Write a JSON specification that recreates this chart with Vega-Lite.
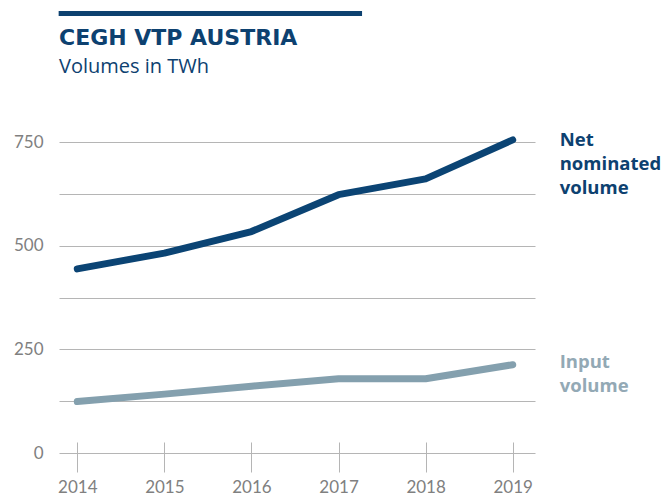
{
  "$schema": "https://vega.github.io/schema/vega-lite/v6.json",
  "width": 476,
  "height": 311,
  "autosize": {"type": "none"},
  "padding": {"left": 59, "top": 142, "right": 132, "bottom": 49},
  "background": "white",
  "title": {
    "text": "CEGH VTP AUSTRIA",
    "subtitle": "Volumes in TWh",
    "anchor": "start",
    "frame": "group",
    "font": "DejaVu Sans",
    "fontSize": 22,
    "fontWeight": "bold",
    "color": "#0d4170",
    "subtitleFont": "Open Sans",
    "subtitleFontSize": 20,
    "subtitleColor": "#0d4170",
    "subtitlePadding": 7,
    "offset": -67.5
  },
  "config": {
    "view": {"stroke": null},
    "axis": {
      "labelFont": "Lato",
      "labelFontSize": 17,
      "labelColor": "#808080",
      "gridColor": "#b5b5b5",
      "gridWidth": 1,
      "tickColor": "#b5b5b5",
      "title": null
    }
  },
  "data": {
    "values": [
      {"series": "Net nominated volume", "year": 2014, "value": 444},
      {"series": "Net nominated volume", "year": 2015, "value": 482},
      {"series": "Net nominated volume", "year": 2016, "value": 534},
      {"series": "Net nominated volume", "year": 2017, "value": 623},
      {"series": "Net nominated volume", "year": 2018, "value": 661},
      {"series": "Net nominated volume", "year": 2019, "value": 755},
      {"series": "Input volume", "year": 2014, "value": 124},
      {"series": "Input volume", "year": 2015, "value": 142},
      {"series": "Input volume", "year": 2016, "value": 161},
      {"series": "Input volume", "year": 2017, "value": 179},
      {"series": "Input volume", "year": 2018, "value": 179},
      {"series": "Input volume", "year": 2019, "value": 213}
    ]
  },
  "layer": [
    {
      "data": {"values": [{}]},
      "mark": {"type": "rule", "strokeWidth": 5, "color": "#0d4170", "clip": false},
      "encoding": {
        "x": {"datum": 2013.786, "type": "quantitative"},
        "x2": {"datum": 2017.27},
        "y": {"datum": 1060, "type": "quantitative"}
      }
    },
    {
      "mark": {"type": "line", "strokeWidth": 7, "strokeCap": "round", "strokeJoin": "round", "clip": false},
      "encoding": {
        "x": {
          "field": "year",
          "type": "quantitative",
          "scale": {"domain": [2013.79, 2019.256], "nice": false, "zero": false},
          "axis": {
            "values": [2014, 2015, 2016, 2017, 2018, 2019],
            "format": "d",
            "grid": false,
            "domain": false,
            "offset": -11,
            "tickSize": 30,
            "labelPadding": 7
          }
        },
        "y": {
          "field": "value",
          "type": "quantitative",
          "scale": {"domain": [0, 750], "nice": false},
          "axis": {
            "values": [0, 125, 250, 375, 500, 625, 750],
            "labelExpr": "datum.value % 250 === 0 ? datum.label : ''",
            "format": "d",
            "grid": true,
            "ticks": false,
            "domain": false,
            "labelPadding": 16
          }
        },
        "color": {
          "field": "series",
          "type": "nominal",
          "scale": {"domain": ["Net nominated volume", "Input volume"], "range": ["#0b4474", "#84a0ae"]},
          "legend": null
        }
      }
    },
    {
      "transform": [{"filter": "datum.year === 2019 && datum.series === 'Net nominated volume'"}],
      "mark": {"type": "text", "text": ["Net", "nominated", "volume"], "align": "left", "baseline": "alphabetic", "dx": 47, "dy": 6, "font": "Open Sans", "fontWeight": "bold", "fontSize": 18.5, "lineHeight": 24, "color": "#0d4170"},
      "encoding": {
        "x": {"field": "year", "type": "quantitative"},
        "y": {"field": "value", "type": "quantitative"}
      }
    },
    {
      "transform": [{"filter": "datum.year === 2019 && datum.series === 'Input volume'"}],
      "mark": {"type": "text", "text": ["Input", "volume"], "align": "left", "baseline": "alphabetic", "dx": 47, "dy": 3, "font": "Open Sans", "fontWeight": "bold", "fontSize": 18.5, "lineHeight": 24, "color": "#93a9b5"},
      "encoding": {
        "x": {"field": "year", "type": "quantitative"},
        "y": {"field": "value", "type": "quantitative"}
      }
    }
  ]
}
